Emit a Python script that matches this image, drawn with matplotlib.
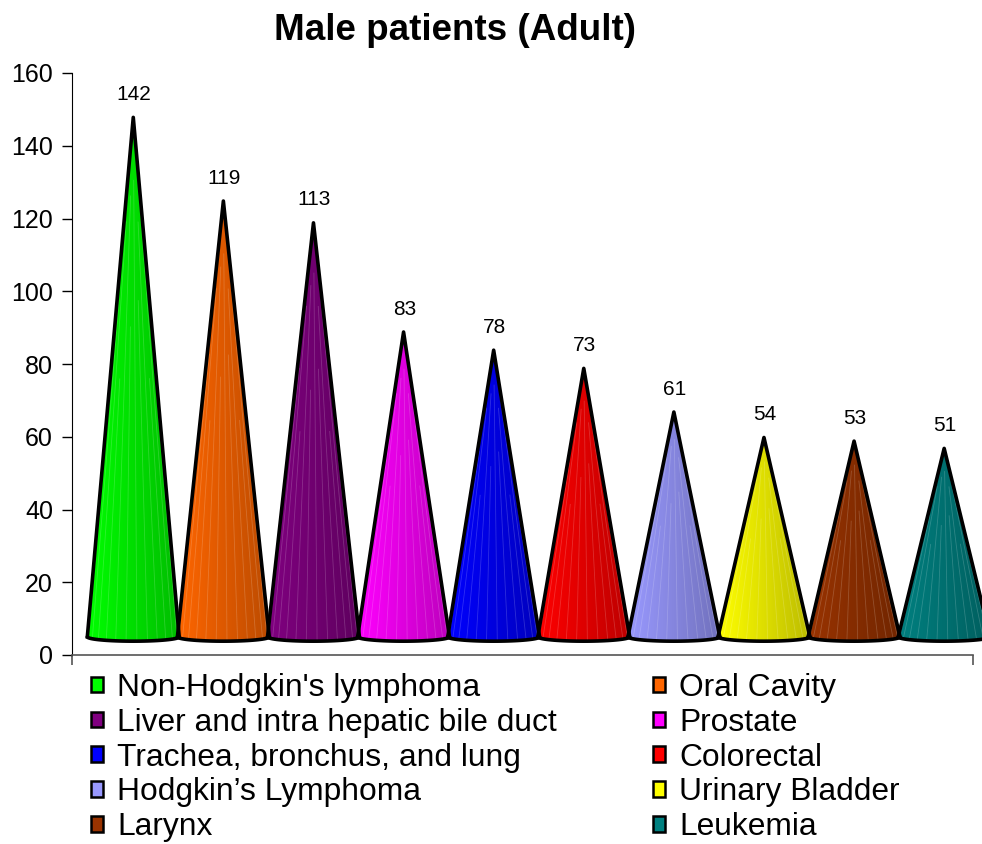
import numpy as np
import matplotlib
matplotlib.use('Agg')
import matplotlib.pyplot as plt
from matplotlib.patches import Patch, Polygon
from matplotlib.colors import to_rgb

plt.rcParams['font.family'] = ['Liberation Sans', 'DejaVu Sans']

categories = ["Non-Hodgkin's lymphoma", "Oral Cavity", "Liver and intra hepatic bile duct",
              "Prostate", "Trachea, bronchus, and lung", "Colorectal",
              "Hodgkin\u2019s Lymphoma", "Urinary Bladder", "Larynx", "Leukemia"]
values = [142, 119, 113, 83, 78, 73, 61, 54, 53, 51]
colors = ['#00FF00', '#FF6600', '#800080', '#FF00FF', '#0000FF',
          '#FF0000', '#9999FF', '#FFFF00', '#993300', '#008080']
yticks = [0, 20, 40, 60, 80, 100, 120, 140, 160]

# fake 3d look: cones sit a bit up and right of the axes
depth_x = 0.18
depth_y = 5.8
base_y = 5.0
base_b = 1.2
half_w = 0.51
seam_start = [0.12, 0.35, 0.2, 0.5, 0.15, 0.4]

fig = plt.figure(figsize=(9.82, 8.44), dpi=100)
ax = fig.add_axes([72/982, 1 - 655/844, 901/982, 582/844])
ax.set_xlim(-0.5, 9.5)
ax.set_ylim(0, 160)


def draw_cone(ax, xc, top, color, n=40):
    rgb = np.array(to_rgb(color))
    theta = np.linspace(np.pi, 2*np.pi, n + 1)
    bx = xc + half_w * np.cos(theta)
    by = base_y + base_b * np.sin(theta)
    outline = np.column_stack([np.r_[xc, bx], np.r_[top, by]])
    poly = Polygon(outline, closed=True, facecolor='none', edgecolor='none')
    ax.add_patch(poly)
    # horizontal shading, light on the left, darker on the right
    shade = np.linspace(1.0, 0.74, 200)
    grad = np.clip(rgb[None, :] * shade[:, None], 0, 1)[None, :, :]
    im = ax.imshow(grad, extent=[bx[0], bx[-1], by.min(), top], aspect='auto',
                   interpolation='bilinear', zorder=2)
    im.set_clip_path(poly)
    im.set_clip_box(fig.bbox)
    # faint seams like the original renderer
    for j, k in enumerate(range(3, n - 1, 3)):
        f = seam_start[j % len(seam_start)]
        x0 = xc + f * (bx[k] - xc)
        y0 = top + f * (by[k] - top)
        ax.plot([x0, bx[k]], [y0, by[k]], color='white', lw=0.6, alpha=0.18,
                clip_on=False, zorder=2.5)
    ax.plot([bx[0], xc, bx[-1]], [by[0], top, by[-1]], color='black', lw=2.6,
            solid_joinstyle='round', clip_on=False, zorder=3)
    ax.plot(bx, by, color='black', lw=2.6, solid_joinstyle='round',
            solid_capstyle='round', clip_on=False, zorder=3)


for i, (v, c) in enumerate(zip(values, colors)):
    xc = i + depth_x
    top = v + depth_y
    draw_cone(ax, xc, top, c)
    ax.annotate(str(v), (xc, top), xytext=(0.7, 16.5), textcoords='offset points',
                ha='center', va='center', fontsize=15)

for s in ['top', 'right']:
    ax.spines[s].set_visible(False)
ax.spines['left'].set_color('black')
ax.spines['bottom'].set_color('#555555')
ax.spines['bottom'].set_linewidth(1.2)

ax.set_yticks(yticks)
ax.tick_params(axis='y', labelsize=18, length=7.2, width=1, pad=6.5, direction='out')
ax.set_xticks([-0.5, 9.5])
ax.set_xticklabels([])
ax.tick_params(axis='x', length=7.2, width=1.2, direction='out', color='#555555')

fig.text(454.5/982, 1 - 40/844, 'Male patients (Adult)', ha='center', va='baseline',
         fontsize=26.5, fontweight='bold')

handles = [Patch(facecolor=c, edgecolor='black', linewidth=1.8, label=l)
           for c, l in zip(colors, categories)]
order = [0, 2, 4, 6, 8, 1, 3, 5, 7, 9]
fig.legend([handles[k] for k in order], [categories[k] for k in order],
           ncol=2, loc='upper left', bbox_to_anchor=(91/982, 1 - 673/844),
           frameon=False, fontsize=22.9, handlelength=0.38, handleheight=0.38,
           handletextpad=0.45, columnspacing=3.0, labelspacing=0.15,
           borderpad=0, borderaxespad=0)

fig.savefig('out.png', dpi=100)
